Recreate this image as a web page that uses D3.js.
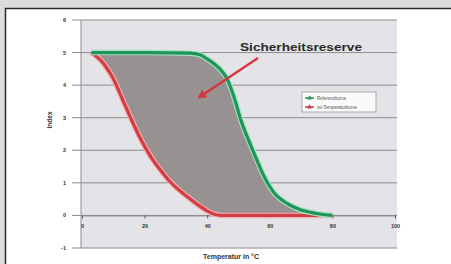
<!DOCTYPE html>
<html><head><meta charset="utf-8">
<script src="https://cdn.jsdelivr.net/npm/d3@7"></script>
<style>html,body{margin:0;padding:0;background:#dcdcdc;}svg{display:block;}</style>
</head><body>
<svg id="c" width="451" height="264"></svg>
<script>
const xTicks = [0, 20, 40, 60, 80, 100];
const yTicks = [-1, 0, 1, 2, 3, 4, 5, 6];
const greenX = [3, 20, 34.5, 37.7, 40, 44, 46.3, 49, 50.5, 52, 53.7, 56, 57.8, 61, 65.5, 69.6, 75, 80];
const greenY = [5, 5, 4.98, 4.93, 4.8, 4.5, 4.2, 3.5, 3.0, 2.6, 2.2, 1.67, 1.27, 0.74, 0.37, 0.18, 0.06, 0];
const redX = [3, 7, 10, 13, 16, 19, 22, 25, 28, 31, 34, 37, 40, 42.5, 45, 80];
const redY = [5, 4.65, 4.2, 3.55, 2.9, 2.3, 1.8, 1.4, 1.05, 0.78, 0.55, 0.33, 0.14, 0.03, 0, 0];
const seriesNames = ["Referenzkurve", "Ist-Temperaturkurve"];
const annotation = "Sicherheitsreserve";
const xTitle = "Temperatur in °C";
const yTitle = "Index";

const svg = d3.select("#c");
svg.append("rect").attr("x",5.5).attr("y",8.5).attr("width",460).attr("height",270)
  .attr("fill","#fff").attr("stroke","#2a2a2a").attr("stroke-width",1.5);

const x = d3.scaleLinear().domain([0,100]).range([82,395]);
const y = d3.scaleLinear().domain([-1,6]).range([248,20]);

svg.append("rect").attr("x",81).attr("y",20).attr("width",316).attr("height",228)
  .attr("fill","#e4e4e8");

svg.append("g").selectAll("line").data(yTicks).join("line")
  .attr("x1",72).attr("x2",397).attr("y1",d=>y(d)).attr("y2",d=>y(d))
  .attr("stroke","#8c8c8c").attr("stroke-width",1);

svg.append("line").attr("x1",81).attr("x2",81).attr("y1",20).attr("y2",248)
  .attr("stroke","#8c8c8c").attr("stroke-width",1);

svg.append("g").selectAll("text").data(yTicks).join("text")
  .attr("x",66).attr("y",d=>y(d)+2).attr("text-anchor","end")
  .attr("font-family","Liberation Sans, Arial, sans-serif").attr("font-size",5.5).attr("font-weight","bold")
  .attr("fill","#333").text(d=>d);

const xAxis = d3.axisBottom(x).tickValues(xTicks).tickSize(3).tickPadding(6);
const gx = svg.append("g").attr("transform",`translate(0,${y(0)})`).call(xAxis);
gx.select(".domain").attr("stroke","#8c8c8c");
gx.selectAll(".tick line").attr("stroke","#555");
gx.selectAll("text").attr("font-family","Liberation Sans, Arial, sans-serif").attr("font-size",5.5)
  .attr("font-weight","bold").attr("fill","#333");

const gPts = greenX.map((d,i)=>[d,greenY[i]]);
const rPts = redX.map((d,i)=>[d,redY[i]]);
const lineGen = d3.line().x(d=>x(d[0])).y(d=>y(d[1])).curve(d3.curveMonotoneX);
const gPath = lineGen(gPts);
const rRev = lineGen(rPts.slice().reverse());
svg.append("path").attr("d", gPath + "L" + rRev.slice(1) + "Z")
  .attr("fill","#979192").attr("stroke","none");

svg.append("path").attr("d",lineGen(rPts)).attr("fill","none").attr("stroke","#f4b0b0").attr("stroke-width",5.5).attr("stroke-linejoin","round");
svg.append("path").attr("d",lineGen(rPts)).attr("fill","none").attr("stroke","#d23c44").attr("stroke-width",3.2).attr("stroke-linejoin","round");
svg.append("path").attr("d",gPath).attr("fill","none").attr("stroke","#9ee4c0").attr("stroke-width",5.5).attr("stroke-linejoin","round");
svg.append("path").attr("d",gPath).attr("fill","none").attr("stroke","#22945a").attr("stroke-width",3.2).attr("stroke-linejoin","round");

svg.append("text").attr("x",240).attr("y",51).attr("textLength",122).attr("lengthAdjust","spacingAndGlyphs")
  .attr("font-family","Liberation Sans, Arial, sans-serif").attr("font-size",11).attr("font-weight","bold")
  .attr("fill","#2a2a2a").text(annotation);
const defs = svg.append("defs");
defs.append("marker").attr("id","ah").attr("viewBox","0 0 10 10").attr("refX",5).attr("refY",5)
  .attr("markerWidth",4).attr("markerHeight",4).attr("orient","auto")
  .append("path").attr("d","M0,0L10,5L0,10Z").attr("fill","#d8343c");
svg.append("line").attr("x1",258).attr("y1",58).attr("x2",201).attr("y2",96)
  .attr("stroke","#d8343c").attr("stroke-width",2.2).attr("marker-end","url(#ah)");

const lg = svg.append("g").attr("transform","translate(302,92)");
lg.append("rect").attr("width",74).attr("height",20).attr("fill","#fafafa").attr("stroke","#9a9a9a").attr("stroke-width",0.8);
const lcol = ["#22945a","#d23c44"];
seriesNames.forEach((n,i)=>{
  const yy = 6 + i*9;
  lg.append("line").attr("x1",3).attr("x2",12).attr("y1",yy).attr("y2",yy).attr("stroke",lcol[i]).attr("stroke-width",1.5);
  lg.append("path").attr("d",d3.symbol(d3.symbolTriangle,10)()).attr("transform",`translate(7.5,${yy})`).attr("fill",lcol[i]);
  lg.append("text").attr("x",15).attr("y",yy+1.5).attr("font-family","Liberation Sans, Arial, sans-serif")
    .attr("font-size",4.5).attr("fill","#555").text(n);
});

svg.append("text").attr("transform","translate(52,120) rotate(-90)").attr("text-anchor","middle")
  .attr("font-family","Liberation Sans, Arial, sans-serif").attr("font-size",6.5).attr("font-weight","bold")
  .attr("fill","#333").text(yTitle);
svg.append("text").attr("x",231).attr("y",259).attr("text-anchor","middle")
  .attr("font-family","Liberation Sans, Arial, sans-serif").attr("font-size",7).attr("font-weight","bold")
  .attr("fill","#333").text(xTitle);
</script>
</body></html>
